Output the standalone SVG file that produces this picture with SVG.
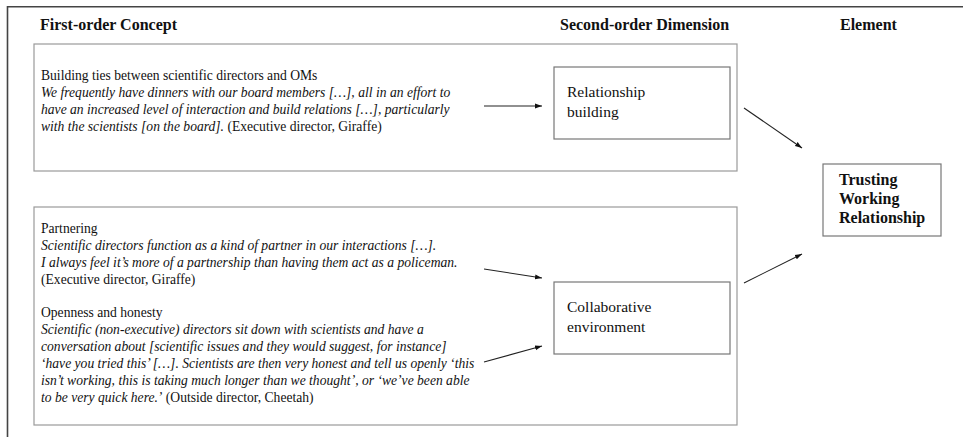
<svg xmlns="http://www.w3.org/2000/svg" width="963" height="437" viewBox="0 0 963 437">
<defs>
<marker id="ah" viewBox="0 0 10 10" refX="10" refY="5" markerWidth="7" markerHeight="7" markerUnits="userSpaceOnUse" orient="auto">
<path d="M0,1.5 L10,5 L0,8.5 z" fill="#111"/>
</marker>
<style>
text{font-family:"Liberation Serif","Times New Roman",serif;fill:#111}
.hd{font-size:16px;font-weight:bold}
.t{font-size:13.6px}
.i{font-style:italic}
.dim{font-size:15.5px}
.el{font-size:16px;font-weight:bold}
.grp{fill:#fff;stroke:#9a9a9a;stroke-width:1.2}
.box{fill:#fff;stroke:#777;stroke-width:1.2}
.conn line{stroke:#222;stroke-width:1.1;marker-end:url(#ah)}
</style>
</defs>
<rect width="963" height="437" fill="#fff"/>
<path d="M7.5,437 V6.8 H963" fill="none" stroke="#444" stroke-width="1.6"/>
<g id="headers">
<text class="hd" x="40" y="30">First-order Concept</text>
<text class="hd" x="560" y="30">Second-order Dimension</text>
<text class="hd" x="840" y="30">Element</text>
</g>
<g id="group-top">
<rect class="grp" x="34" y="44" width="703" height="127"/>
<text class="t" x="41" y="80">Building ties between scientific directors and OMs</text>
<text class="t i" x="41" y="97">We frequently have dinners with our board members […], all in an effort to</text>
<text class="t i" x="41" y="114">have an increased level of interaction and  build relations […], particularly</text>
<text class="t" x="41" y="131"><tspan class="i">with the scientists [on the board].</tspan> (Executive director, Giraffe)</text>
</g>
<g id="group-bottom">
<rect class="grp" x="34" y="207" width="703" height="218"/>
<text class="t" x="41" y="233">Partnering</text>
<text class="t i" x="41" y="250">Scientific directors function as a kind of partner in our interactions […].</text>
<text class="t i" x="41" y="267">I always feel it’s more of a partnership than having them act as a policeman.</text>
<text class="t" x="41" y="284">(Executive director, Giraffe)</text>
<text class="t" x="41" y="317">Openness and honesty</text>
<text class="t i" x="41" y="334">Scientific (non-executive)  directors sit down with scientists and have a</text>
<text class="t i" x="41" y="351">conversation about [scientific issues and they would suggest, for instance]</text>
<text class="t i" x="41" y="368">‘have you tried this’ […]. Scientists are then very honest and tell us openly ‘this</text>
<text class="t i" x="41" y="385">isn’t working, this is taking much longer than we thought’, or ‘we’ve been able</text>
<text class="t" x="41" y="402"><tspan class="i">to be very quick here.’</tspan>  (Outside director, Cheetah)</text>
</g>
<g id="relationship-building">
<rect class="box" x="554" y="67" width="176" height="72"/>
<text class="dim" x="567" y="97">Relationship</text>
<text class="dim" x="567" y="117">building</text>
</g>
<g id="collaborative-environment">
<rect class="box" x="554" y="282" width="176" height="72"/>
<text class="dim" x="567" y="312">Collaborative</text>
<text class="dim" x="567" y="332">environment</text>
</g>
<g id="trusting-working-relationship">
<rect class="box" x="823" y="164" width="118" height="72"/>
<text class="el" x="839" y="185">Trusting</text>
<text class="el" x="839" y="204">Working</text>
<text class="el" x="839" y="223">Relationship</text>
</g>
<g id="connectors" class="conn">
<line x1="484" y1="106" x2="542" y2="106"/>
<line x1="484" y1="269" x2="542" y2="278"/>
<line x1="484" y1="362" x2="542" y2="346"/>
<line x1="744" y1="108" x2="802" y2="148"/>
<line x1="744" y1="283" x2="802" y2="254"/>
</g>
</svg>
